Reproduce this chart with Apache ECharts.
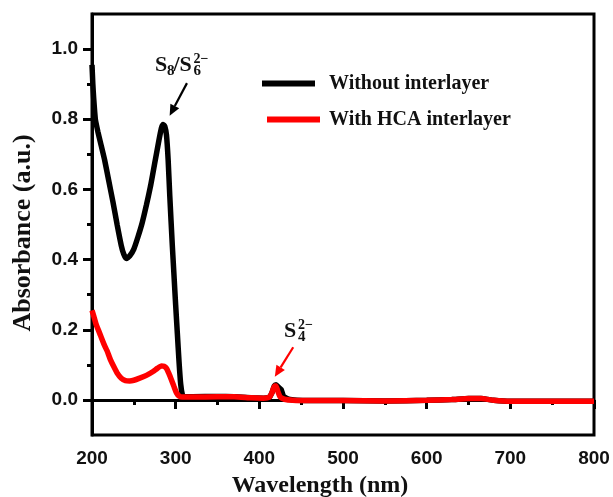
<!DOCTYPE html>
<html>
<head>
<meta charset="utf-8">
<script src="https://cdn.jsdelivr.net/npm/echarts@6/dist/echarts.min.js"></script>
<style>
  html, body { margin: 0; padding: 0; background: #fff; }
  #chart { width: 613px; height: 497px; }
</style>
</head>
<body>
<div id="chart"></div>
<script>
// UV-vis absorbance of polysulfide solutions (wavelength in nm, absorbance in a.u.)
const withoutWl = [200, 201, 202, 204, 207, 210, 215, 220, 225, 230, 235, 238, 241, 245, 250, 255, 260, 265, 270, 275, 280, 283, 285, 287, 289, 291, 293, 296, 298, 300, 302, 304, 306, 308, 310, 320, 350, 370, 390, 405, 412, 415, 418, 420, 423, 426, 429, 435, 445, 460, 500, 550, 600, 630, 650, 665, 680, 700, 800];
const withoutAbs = [0.955, 0.90, 0.86, 0.80, 0.765, 0.735, 0.685, 0.625, 0.565, 0.50, 0.44, 0.415, 0.403, 0.41, 0.43, 0.465, 0.505, 0.555, 0.61, 0.675, 0.74, 0.775, 0.785, 0.78, 0.755, 0.685, 0.58, 0.44, 0.355, 0.27, 0.19, 0.11, 0.045, 0.015, 0.009, 0.009, 0.01, 0.009, 0.006, 0.005, 0.008, 0.02, 0.04, 0.043, 0.036, 0.03, 0.01, 0.002, -0.001, -0.002, -0.002, -0.003, -0.001, 0.001, 0.004, 0.004, -0.001, -0.004, -0.004];

const hcaWl = [200, 202, 205, 210, 215, 218, 222, 226, 230, 235, 240, 245, 250, 257, 265, 273, 278, 283, 286, 289, 292, 295, 298, 301, 304, 308, 320, 350, 370, 390, 405, 412, 415, 418, 420, 422, 425, 430, 440, 460, 500, 550, 600, 630, 650, 665, 680, 700, 800];
const hcaAbs = [0.255, 0.24, 0.215, 0.185, 0.155, 0.14, 0.115, 0.095, 0.077, 0.062, 0.055, 0.054, 0.056, 0.062, 0.07, 0.081, 0.09, 0.097, 0.096, 0.09, 0.075, 0.057, 0.038, 0.02, 0.011, 0.008, 0.008, 0.009, 0.009, 0.006, 0.005, 0.008, 0.02, 0.04, 0.04, 0.025, 0.008, 0.002, -0.001, -0.002, -0.002, -0.003, -0.001, 0.001, 0.004, 0.004, -0.001, -0.004, -0.004];

const seriesNames = ['Without interlayer', 'With HCA interlayer'];
const seriesColors = ['#000000', '#ff0000'];

// Axis ticks
const xMajor = [200, 300, 400, 500, 600, 700, 800];
const xMinor = [250, 350, 450, 550, 650, 750];
const yMajor = [0.0, 0.2, 0.4, 0.6, 0.8, 1.0];
const yMinor = [0.1, 0.3, 0.5, 0.7, 0.9];

const SANS = "'Liberation Sans', Arial, sans-serif";
const SERIF = "'Liberation Serif', 'Times New Roman', serif";

const pairs = (xs, ys) => xs.map((x, i) => [x, ys[i]]);

const chart = echarts.init(document.getElementById('chart'), null, { renderer: 'canvas' });

const axisLineStyle = { color: '#000', width: 3 };
const labelStyle = { color: '#111', fontFamily: SANS, fontWeight: 'bold', fontSize: 19 };
const legendText = { fontFamily: SERIF, fontWeight: 'bold', fontSize: 20, color: '#111' };

const option = {
  backgroundColor: '#fff',
  animation: false,
  grid: {
    left: 92, right: 19, top: 14, bottom: 62,
    show: true, borderColor: '#000', borderWidth: 3, backgroundColor: 'transparent'
  },
  legend: [
    {
      data: [seriesNames[0]], left: 262, top: 73.5, padding: 0, icon: 'rect',
      itemWidth: 53, itemHeight: 6, selectedMode: false,
      textStyle: Object.assign({ padding: [0, 0, 0, 9] }, legendText)
    },
    {
      data: [seriesNames[1]], left: 267, top: 109.5, padding: 0, icon: 'rect',
      itemWidth: 53, itemHeight: 6, selectedMode: false,
      textStyle: Object.assign({ padding: [0, 0, 0, 4] }, legendText)
    }
  ],
  xAxis: [{
    type: 'value', min: 200, max: 800,
    axisLine: { show: true, lineStyle: axisLineStyle },
    axisTick: { show: true, length: 9, lineStyle: { width: 3, color: '#000' }, customValues: xMajor },
    axisLabel: Object.assign({ margin: 14, customValues: xMajor }, labelStyle),
    splitLine: { show: false }
  }, {
    type: 'value', min: 200, max: 800, position: 'bottom',
    axisLine: { show: false },
    axisTick: { show: true, length: 5, lineStyle: { width: 3, color: '#000' }, customValues: xMinor },
    axisLabel: { show: false },
    splitLine: { show: false }
  }],
  yAxis: [{
    type: 'value', min: -0.1, max: 1.1,
    axisLine: { show: true, lineStyle: axisLineStyle },
    axisTick: { show: true, length: 9, lineStyle: { width: 3, color: '#000' }, customValues: yMajor },
    axisLabel: Object.assign({ margin: 14, customValues: yMajor, formatter: v => v.toFixed(1) }, labelStyle),
    splitLine: { show: false }
  }, {
    type: 'value', min: -0.1, max: 1.1, position: 'left',
    axisLine: { show: false },
    axisTick: { show: true, length: 5, lineStyle: { width: 3, color: '#000' }, customValues: yMinor },
    axisLabel: { show: false },
    splitLine: { show: false }
  }],
  series: [
    {
      name: seriesNames[0], type: 'line', data: pairs(withoutWl, withoutAbs),
      showSymbol: false, smooth: 0.15, color: seriesColors[0],
      lineStyle: { width: 5.5, color: seriesColors[0] }, z: 2
    },
    {
      name: seriesNames[1], type: 'line', data: pairs(hcaWl, hcaAbs),
      showSymbol: false, smooth: 0.15, color: seriesColors[1],
      lineStyle: { width: 5.5, color: seriesColors[1] }, z: 3
    }
  ]
};
chart.setOption(option);

// Annotations: peak labels and arrows, anchored in data coordinates
const toPx = (p) => chart.convertToPixel({ gridIndex: 0 }, p);

function arrow(from, to, color) {
  const a = toPx(from), b = toPx(to);
  const dx = b[0] - a[0], dy = b[1] - a[1];
  const len = Math.hypot(dx, dy), ux = dx / len, uy = dy / len;
  const headL = 11, headW = 5;
  const base = [b[0] - ux * headL, b[1] - uy * headL];
  return [
    { type: 'line', shape: { x1: a[0], y1: a[1], x2: base[0], y2: base[1] },
      style: { stroke: color, lineWidth: 2.2 }, z: 10 },
    { type: 'polygon', shape: { points: [b, [base[0] - uy * headW, base[1] + ux * headW], [base[0] + uy * headW, base[1] - ux * headW]] },
      style: { fill: color }, z: 10 }
  ];
}

// parts: [text, dx, baseline offset, font size]; anchor is the left end of the main baseline
function speciesLabel(anchor, parts) {
  const p = toPx(anchor);
  return parts.map(([t, dx, dy, size]) => ({
    type: 'text', x: p[0] + dx, y: p[1] + dy - 0.3 * size, z: 10,
    style: { text: t, fill: '#111', font: `bold ${size}px ${SERIF}`, align: 'left', verticalAlign: 'middle' }
  }));
}

const g = [];
g.push(...speciesLabel([275.3, 0.9355], [
  ['S', 0, 0, 22],
  ['8', 12, 3.5, 15],
  ['/S', 18.5, 0, 22],
  ['2\u2212', 38.5, -8.5, 14],
  ['6', 38.5, 3.5, 15]
]));
g.push(...arrow([313.5, 0.903], [292.8, 0.81], '#000'));
g.push(...speciesLabel([429.5, 0.176], [
  ['S', 0, 0, 22],
  ['2\u2212', 14, -8.5, 14],
  ['4', 14, 3.5, 15]
]));
g.push(...arrow([440.5, 0.15], [418.5, 0.066], '#ff0000'));

// Axis titles
g.push({
  type: 'text', x: 320, y: 486, z: 10,
  style: { text: 'Wavelength (nm)', fill: '#111', font: `bold 24px ${SERIF}`, align: 'center', verticalAlign: 'middle' }
});
g.push({
  type: 'text', x: 23, y: 233, rotation: Math.PI / 2, z: 10,
  style: { text: 'Absorbance (a.u.)', fill: '#111', font: `bold 26px ${SERIF}`, align: 'center', verticalAlign: 'middle' }
});

chart.setOption({ graphic: g });
</script>
</body>
</html>
